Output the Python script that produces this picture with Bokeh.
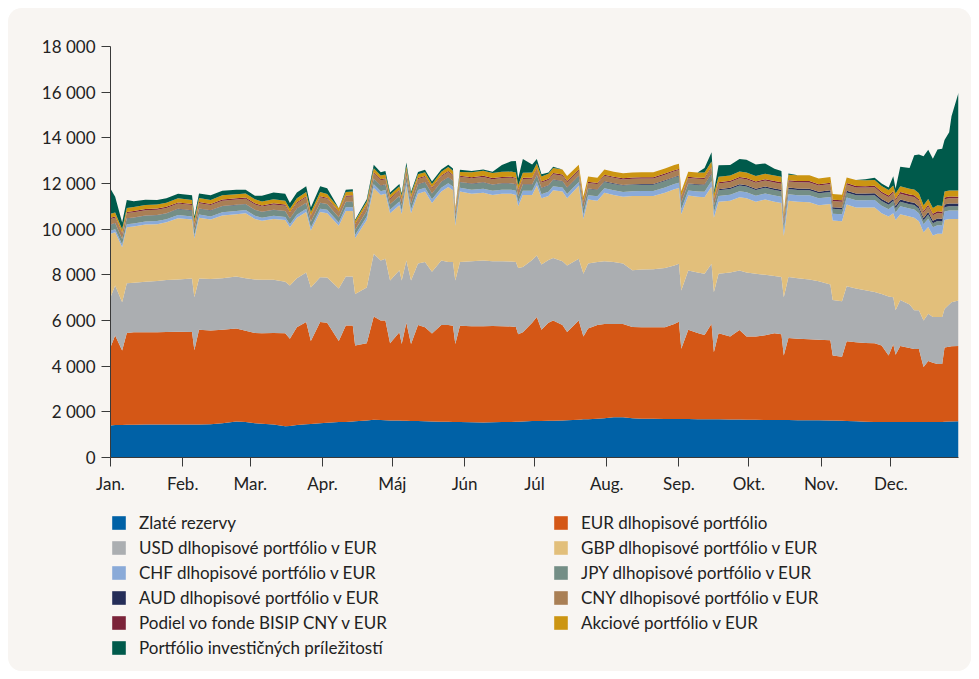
from bokeh.plotting import figure
from bokeh.layouts import column
from bokeh.models import ColumnDataSource, Legend, LegendItem, FixedTicker
from bokeh.embed import file_html
from bokeh.resources import INLINE

# day offset from 1 Jan 2024
days = [0, 2, 5, 7, 10, 15, 20, 24, 29, 35, 36, 38, 43, 48, 54, 58, 62, 65, 70, 75, 77, 80, 84, 86, 90,
        93, 98, 101, 104, 105, 110, 113, 116, 118, 120, 124, 125, 127, 129, 132, 135, 138, 142, 145, 147, 148, 150,
        155, 160, 164, 168, 172, 174, 175, 177, 181, 183, 185, 188, 190, 194, 196, 201, 203, 205, 209, 212,
        216, 220, 224, 228, 233, 238, 242, 244, 245, 248, 252, 255, 258, 259,
        261, 266, 270, 273, 277, 281, 285, 288, 289, 291, 295, 300, 304, 309, 310, 314, 316,
        320, 324, 328, 331, 334, 336, 337, 339, 343, 345, 347, 349, 351, 353, 355, 357, 358, 360, 361, 364]

zlate = [1400, 1420, 1420, 1430, 1430, 1440, 1440, 1450, 1450, 1450, 1450, 1450, 1460, 1500, 1580, 1550, 1500, 1480, 1440, 1370, 1380, 1420, 1460, 1470, 1500,
         1520, 1550, 1560, 1580, 1590, 1620, 1650, 1640, 1630, 1620, 1620, 1610, 1610, 1600, 1600, 1590, 1580, 1570, 1570, 1560, 1560, 1560,
         1540, 1530, 1540, 1550, 1560, 1570, 1570, 1580, 1600, 1600, 1600, 1610, 1610, 1620, 1630, 1650, 1670, 1680, 1700, 1720,
         1760, 1760, 1720, 1700, 1700, 1690, 1690, 1690, 1690, 1690, 1680, 1670, 1670, 1670,
         1670, 1660, 1660, 1650, 1650, 1640, 1640, 1640, 1640, 1640, 1630, 1630, 1630, 1620, 1620, 1610, 1600,
         1590, 1570, 1560, 1550, 1550, 1550, 1550, 1550, 1550, 1550, 1550, 1550, 1550, 1560, 1560, 1560, 1570, 1580, 1580, 1590]

eur = [3430, 3920, 3270, 4020, 4050, 4050, 4040, 4050, 4060, 4050, 3250, 4140, 4100, 4100, 4070, 4000, 3950, 3960, 4010, 4070, 3820, 4280, 4470, 3630, 4430,
       4380, 3550, 4220, 4200, 3310, 3380, 4530, 4360, 4370, 3380, 3870, 3360, 4290, 3370, 4200, 4110, 3850, 4230, 4230, 4210, 3410, 4210,
       4210, 4220, 4220, 4200, 4180, 4150, 3830, 3910, 4300, 4550, 4000, 4290, 4390, 4180, 3870, 4350, 3630, 3970, 4100, 4130,
       4090, 4090, 4000, 4000, 4000, 4010, 4160, 4260, 3070, 3910, 3770, 3700, 4190, 2940,
       3770, 3640, 3920, 3650, 3650, 3710, 3800, 3760, 2830, 3590, 3570, 3550, 3530, 3520, 2850, 2800, 3490,
       3460, 3450, 3440, 3350, 2920, 3410, 2950, 3330, 3250, 3200, 3200, 2410, 2680, 2590, 2530, 2530, 3250, 3270, 3290, 3290]

usd = [2190, 2190, 2110, 2180, 2170, 2210, 2250, 2270, 2290, 2340, 2320, 2250, 2260, 2250, 2280, 2300, 2350, 2340, 2330, 2260, 2330, 2150, 2170, 2350, 1960,
       1980, 2300, 2150, 2150, 2260, 2450, 2740, 2630, 2700, 2750, 2710, 2780, 2730, 2780, 2700, 2860, 2700, 2830, 2760, 2790, 2780, 2790,
       2850, 2880, 2840, 2850, 2840, 2840, 2900, 2850, 2750, 2700, 2850, 2750, 2740, 2800, 2910, 2700, 2750, 2850, 2760, 2750,
       2710, 2650, 2480, 2530, 2550, 2600, 2560, 2530, 2550, 2590, 2650, 2680, 2620, 2630,
       2610, 2800, 2610, 2800, 2750, 2650, 2510, 2500, 2550, 2670, 2650, 2620, 2560, 2440, 2430, 2430, 2410,
       2350, 2310, 2250, 2260, 2580, 2060, 1950, 2020, 1900, 1700, 1700, 2040, 2070, 2000, 2060, 2060, 1680, 1850, 1930, 2000]

gbp = [2780, 2340, 2410, 2450, 2470, 2500, 2490, 2530, 2680, 2580, 2570, 2660, 2600, 2750, 2720, 2850, 2650, 2590, 2670, 2700, 2550, 2650, 2650, 2490, 2860,
       2820, 2750, 2870, 2870, 2440, 2950, 2880, 2870, 2850, 2950, 2850, 2910, 3270, 2950, 3050, 3090, 3020, 3020, 3290, 3140, 2400, 3090,
       2950, 2970, 2900, 2950, 2970, 2940, 2700, 3160, 2850, 3060, 2900, 2800, 2960, 3050, 2940, 3200, 2400, 2800, 2690, 3000,
       2940, 2920, 3250, 3220, 3200, 3300, 3340, 3320, 3340, 3280, 3320, 3350, 3390, 3260,
       3150, 3150, 3210, 3250, 3150, 3300, 3250, 3250, 2680, 3350, 3350, 3380, 3330, 3520, 3480, 3510, 3580,
       3550, 3620, 3700, 3540, 3500, 3680, 3950, 3750, 3850, 4050, 3900, 3870, 3800, 3570, 3650, 3650, 3900, 3750, 3650, 3570]

chf = [130, 130, 120, 130, 130, 135, 135, 135, 140, 140, 135, 140, 140, 145, 145, 140, 140, 135, 135, 130, 130, 135, 140, 130, 140,
       150, 140, 155, 160, 150, 155, 165, 160, 160, 150, 160, 150, 165, 160, 165, 160, 160, 165, 165, 165, 150, 165,
       175, 175, 180, 180, 180, 185, 175, 180, 185, 185, 180, 185, 185, 180, 185, 170, 185, 190, 190, 195,
       200, 210, 215, 220, 220, 225, 225, 230, 220, 225, 230, 235, 240, 230,
       250, 255, 260, 265, 260, 265, 270, 270, 250, 280, 290, 300, 300, 310, 300, 305, 310,
       320, 320, 330, 330, 320, 340, 330, 350, 350, 360, 350, 340, 360, 360, 370, 360, 370, 370, 370, 370]

jpy = [260, 250, 230, 250, 250, 250, 250, 250, 255, 250, 240, 250, 250, 255, 255, 250, 250, 245, 250, 250, 240, 250, 255, 240, 255,
       240, 220, 230, 235, 210, 225, 240, 235, 235, 225, 230, 225, 240, 230, 235, 235, 230, 240, 240, 235, 220, 235,
       255, 260, 260, 260, 265, 265, 250, 265, 265, 260, 260, 265, 265, 260, 265, 250, 265, 270, 270, 275,
       280, 280, 275, 280, 280, 285, 285, 285, 270, 280, 280, 285, 285, 270,
       250, 250, 255, 250, 250, 245, 245, 240, 220, 230, 225, 225, 220, 220, 215, 210, 215,
       210, 205, 205, 200, 195, 200, 190, 200, 195, 195, 190, 180, 185, 180, 185, 180, 185, 180, 180, 180]

aud = [15, 15, 12, 15, 15, 15, 15, 15, 15, 15, 12, 15, 15, 15, 15, 15, 15, 15, 15, 15, 12, 15, 15, 12, 15,
       15, 12, 15, 15, 12, 15, 18, 18, 18, 15, 18, 15, 18, 18, 18, 18, 18, 18, 18, 18, 12, 18,
       20, 20, 20, 20, 20, 22, 20, 20, 22, 22, 20, 22, 22, 20, 22, 20, 22, 25, 25, 25,
       28, 28, 28, 30, 30, 30, 30, 30, 28, 30, 32, 35, 40, 35,
       50, 55, 55, 60, 60, 60, 65, 65, 55, 65, 70, 70, 70, 75, 70, 75, 80,
       85, 85, 90, 90, 90, 95, 90, 100, 100, 105, 105, 100, 110, 110, 115, 115, 120, 120, 120, 120]

cny = [240, 235, 220, 230, 230, 230, 230, 230, 230, 230, 220, 230, 230, 235, 235, 230, 230, 225, 230, 230, 220, 230, 235, 220, 235,
       225, 205, 220, 225, 200, 215, 230, 225, 225, 215, 220, 215, 230, 220, 225, 225, 220, 230, 230, 225, 205, 225,
       225, 230, 230, 230, 235, 235, 220, 235, 235, 230, 230, 235, 235, 230, 235, 220, 235, 240, 240, 240,
       240, 240, 240, 240, 240, 245, 245, 245, 230, 240, 245, 245, 250, 235,
       255, 255, 260, 260, 260, 260, 265, 265, 240, 260, 265, 270, 270, 270, 265, 265, 270,
       265, 260, 260, 255, 250, 255, 245, 255, 250, 250, 245, 235, 240, 235, 240, 235, 240, 235, 235, 230]

bisip = [50, 50, 45, 50, 50, 50, 50, 50, 50, 50, 45, 50, 50, 50, 50, 50, 50, 50, 50, 50, 45, 50, 50, 45, 50,
         45, 40, 45, 45, 40, 45, 45, 45, 45, 45, 45, 45, 45, 45, 45, 45, 45, 45, 45, 45, 40, 45,
         50, 50, 50, 50, 50, 50, 48, 50, 50, 50, 50, 50, 50, 50, 50, 48, 50, 50, 50, 50,
         50, 50, 50, 50, 50, 50, 50, 50, 48, 50, 50, 52, 52, 50,
         55, 55, 58, 60, 60, 60, 60, 60, 55, 60, 62, 62, 62, 62, 60, 60, 62,
         65, 65, 65, 65, 65, 68, 65, 70, 70, 70, 70, 68, 70, 70, 72, 70, 72, 72, 72, 72]

akcie = [180, 175, 160, 175, 175, 175, 175, 175, 180, 175, 165, 175, 175, 180, 180, 175, 175, 170, 175, 175, 165, 175, 180, 165, 180,
         165, 145, 160, 165, 145, 160, 170, 165, 165, 155, 160, 155, 170, 160, 165, 165, 160, 170, 170, 165, 145, 165,
         215, 220, 220, 220, 225, 225, 210, 225, 225, 220, 220, 225, 225, 220, 225, 210, 225, 230, 230, 230,
         220, 220, 220, 220, 220, 225, 225, 225, 210, 220, 225, 225, 230, 215,
         235, 235, 240, 240, 240, 240, 245, 245, 220, 240, 245, 250, 250, 250, 245, 245, 250,
         255, 255, 255, 255, 250, 255, 245, 260, 260, 260, 260, 250, 260, 255, 260, 260, 265, 265, 268, 270]

prilezitosti = [1100, 700, 300, 350, 250, 230, 200, 200, 200, 200, 150, 200, 200, 200, 200, 170, 150, 250, 300, 300, 250, 250, 250, 200, 250,
                250, 0, 100, 100, 50, 100, 150, 150, 150, 100, 100, 100, 150, 100, 100, 100, 100, 100, 100, 100, 0, 100,
                60, 60, 60, 300, 450, 500, 300, 600, 350, 200, 100, 50, 50, 0, 0, 0, 0, 0, 0, 0,
                0, 0, 0, 0, 0, 0, 0, 0, 0, 0, 0, 200, 400, 100,
                500, 450, 540, 550, 500, 450, 300, 250, 0, 50, 0, 0, 0, 0, 0, 0, 0,
                0, 50, 100, 100, 100, 400, 200, 850, 900, 1500, 1700, 2150, 2150, 2150, 2450, 2500, 2250, 2550, 3250, 4280]

series_keys = ["zlate", "eur", "usd", "gbp", "chf", "jpy", "aud", "cny", "bisip", "akcie", "prilezitosti"]
series_labels = ["Zlaté rezervy", "EUR dlhopisové portfólio", "USD dlhopisové portfólio v EUR",
                 "GBP dlhopisové portfólio v EUR", "CHF dlhopisové portfólio v EUR",
                 "JPY dlhopisové portfólio v EUR", "AUD dlhopisové portfólio v EUR",
                 "CNY dlhopisové portfólio v EUR", "Podiel vo fonde BISIP CNY v EUR",
                 "Akciové portfólio v EUR", "Portfólio investičných príležitostí"]
series_colors = ["#0061a6", "#d45716", "#abaeb1", "#e2bf7b", "#8aaad8", "#748e86",
                 "#252d58", "#a97f55", "#7b2339", "#cc9512", "#005a4b"]

month_ticks = [0, 31, 60, 91, 121, 152, 182, 213, 244, 274, 305, 335]
month_labels = ["Jan.", "Feb.", "Mar.", "Apr.", "Máj", "Jún", "Júl", "Aug.", "Sep.", "Okt.", "Nov.", "Dec."]
y_ticks = [0, 2000, 4000, 6000, 8000, 10000, 12000, 14000, 16000, 18000]

data = dict(x=days, zlate=zlate, eur=eur, usd=usd, gbp=gbp, chf=chf, jpy=jpy, aud=aud,
            cny=cny, bisip=bisip, akcie=akcie, prilezitosti=prilezitosti)
source = ColumnDataSource(data)

FONT = "Lato"
BG = "#f8f5f2"

# ---- chart ----
p = figure(width=963, height=489, output_backend="svg", toolbar_location=None,
           x_range=(0, days[-1]), y_range=(0, 18000),
           min_border_left=102, min_border_right=13, min_border_top=38, min_border_bottom=40,
           background_fill_color=BG, border_fill_color=BG)
p.outline_line_color = None
p.xgrid.visible = False
p.ygrid.visible = False

renderers = p.varea_stack(stackers=series_keys, x="x", color=series_colors, source=source)

for ax in (p.xaxis[0], p.yaxis[0]):
    ax.axis_line_color = "#3a3a3a"
    ax.major_tick_line_color = "#3a3a3a"
    ax.major_tick_out = 9
    ax.major_tick_in = 0
    ax.minor_tick_out = 0
    ax.minor_tick_in = 0
    ax.major_label_text_font = FONT
    ax.major_label_text_font_size = "17px"
    ax.major_label_text_color = "#222222"

p.xaxis.ticker = FixedTicker(ticks=month_ticks)
p.xaxis.major_label_overrides = {t: lab for t, lab in zip(month_ticks, month_labels)}
p.xaxis.major_label_standoff = 6
p.yaxis.ticker = FixedTicker(ticks=y_ticks)
p.yaxis.major_label_overrides = {t: f"{t:,}".replace(",", " ") for t in y_ticks}
p.yaxis.major_label_standoff = 6

# ---- legend strip (same series, drawn only as legend entries) ----
pl = figure(width=963, height=174, output_backend="svg", toolbar_location=None,
            x_range=(1000, 1001), y_range=(0, 1),
            x_axis_location=None, y_axis_location=None,
            min_border_left=0, min_border_right=0, min_border_top=0, min_border_bottom=0,
            background_fill_color=BG, border_fill_color=BG)
pl.outline_line_color = None
pl.xgrid.visible = False
pl.ygrid.visible = False
leg_renderers = pl.varea_stack(stackers=series_keys, x="x", color=series_colors, source=source)

legend = Legend(items=[LegendItem(label=lab, renderers=[r]) for lab, r in zip(series_labels, leg_renderers)],
                orientation="horizontal", nrows=6, ncols=2, location=(0, 13))
legend.glyph_width = 17
legend.glyph_height = 17
legend.label_height = 20
legend.label_width = 409
legend.label_standoff = 12
legend.spacing = 4
legend.padding = 0
legend.margin = 0
legend.label_text_font = FONT
legend.label_text_font_size = "17px"
legend.label_text_color = "#222222"
legend.background_fill_alpha = 0
legend.border_line_alpha = 0
pl.add_layout(legend)

layout = column(p, pl, spacing=0)
layout.styles = {"margin": "8px 0 0 8px", "border-radius": "14px", "overflow": "hidden",
                 "background-color": BG}

open("out.html", "w").write(file_html(layout, INLINE))
